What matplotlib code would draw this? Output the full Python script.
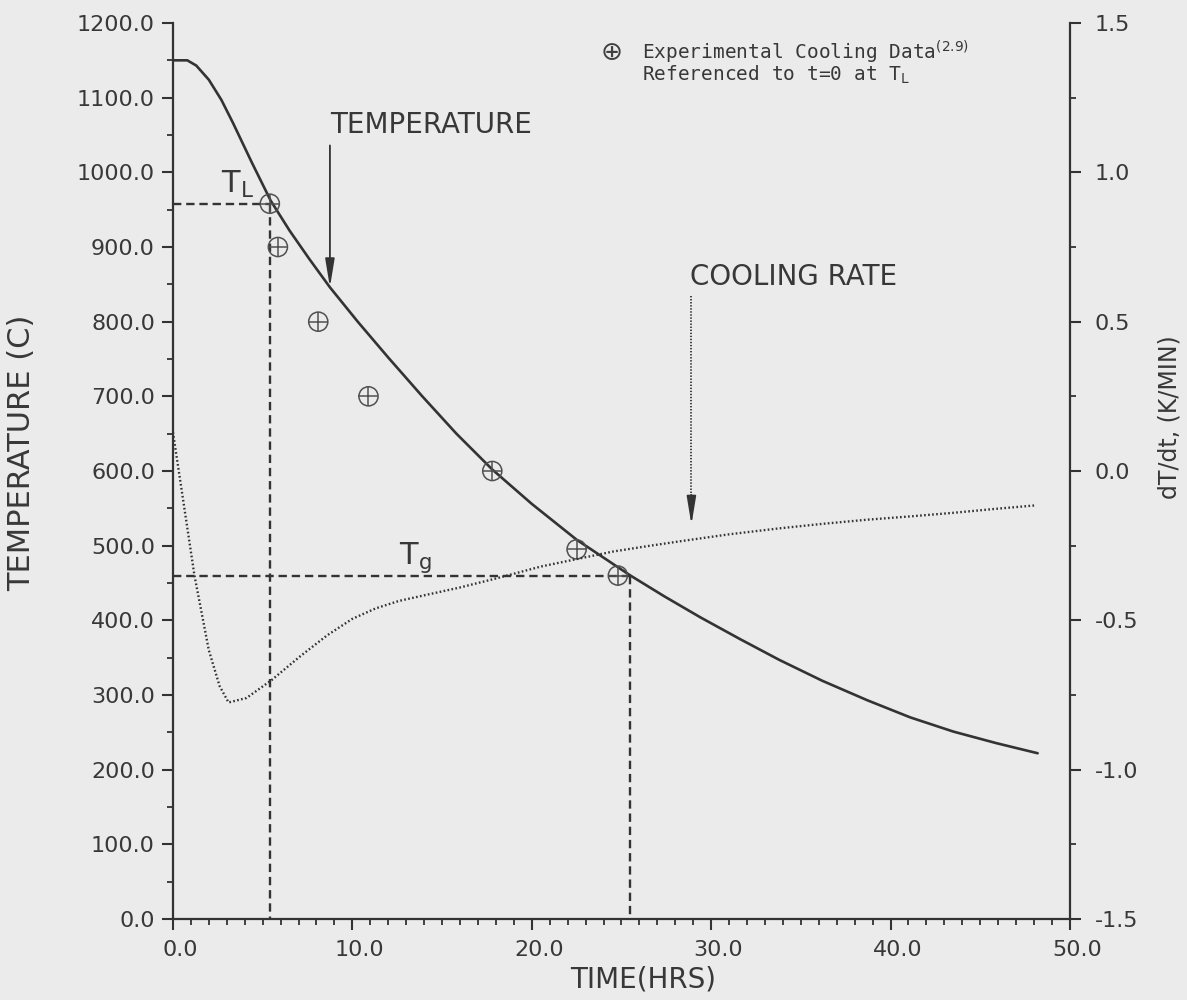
import matplotlib
matplotlib.use('Agg')
import matplotlib.pyplot as plt
from matplotlib.ticker import MultipleLocator, FormatStrFormatter
import matplotlib.transforms as mtransforms

plt.rcParams['lines.scale_dashes'] = False
plt.rcParams['font.family'] = ['DejaVu Sans']

# ---------------- data ----------------
temp_time = [0.0, 0.8, 1.3, 2.0, 2.7, 3.35, 4.4, 5.45, 6.5, 7.6, 8.75, 10.3, 12.0,
             13.9, 15.8, 17.8, 20.0, 22.5, 25.5, 27.4, 29.4, 31.6, 33.8, 36.2,
             38.7, 41.1, 43.5, 45.9, 48.2]
temp_vals = [1150, 1150, 1143, 1124, 1097, 1066, 1013, 962, 922, 884, 846, 800, 752,
             700, 650, 602, 556, 508, 460, 432, 404, 375, 347, 319,
             293, 270, 251, 235.5, 222]

rate_time = [0.0, 0.6, 1.2, 2.0, 2.6, 3.1, 4.1, 5.5, 7.1, 8.6, 10.0, 11.3, 12.6,
             14.1, 16.0, 18.0, 20.5, 22.5, 24.5, 26.4, 28.3, 31.0, 33.8, 36.2,
             38.7, 41.1, 43.5, 45.8, 48.1]
rate_vals = [0.13, -0.11, -0.35, -0.60, -0.72, -0.775, -0.76, -0.70, -0.62, -0.55,
             -0.495, -0.46, -0.435, -0.415, -0.39, -0.36, -0.32, -0.295, -0.27,
             -0.252, -0.235, -0.212, -0.192, -0.177, -0.163, -0.152, -0.14,
             -0.127, -0.115]

exp_time = [5.4, 5.85, 8.1, 10.9, 17.8, 22.5, 24.8]
exp_temp = [958, 900, 800, 700, 600, 495, 460]

t_liquidus, T_liquidus = 5.4, 958
t_glass, T_glass = 25.5, 460

x_ticks = [0, 10, 20, 30, 40, 50]
y_ticks = list(range(0, 1300, 100))
r_ticks = [-1.5, -1.0, -0.5, 0.0, 0.5, 1.0, 1.5]

# ---------------- styling ----------------
bg = '#ebebeb'
ink = '#333333'
txt = '#383838'

fig = plt.figure(figsize=(11.87, 10), dpi=100, facecolor=bg)
ax = fig.add_axes([0.1457, 0.081, 0.7557, 0.896])
ax.set_facecolor(bg)
ax2 = ax.twinx()

ax.set_xlim(0, 50)
ax.set_ylim(0, 1200)
ax2.set_ylim(-1.5, 1.5)

for a in (ax, ax2):
    a.spines['top'].set_visible(False)
    for s in a.spines.values():
        s.set_color(ink)
        s.set_linewidth(1.6)
ax.spines['right'].set_visible(False)
ax2.spines['left'].set_visible(False)
ax2.spines['bottom'].set_visible(False)

# temperature curve
ax.plot(temp_time, temp_vals, color=ink, lw=1.9, solid_joinstyle='round',
        solid_capstyle='round', zorder=4)

# cooling rate (right axis)
ax2.plot(rate_time, rate_vals, color=ink, lw=1.7, linestyle=(0, (1.2, 1.7)), zorder=3)

# experimental data
ax.scatter(exp_time, exp_temp, s=190, facecolors='none', edgecolors='#505050',
           linewidths=1.1, zorder=5)
ax.scatter(exp_time, exp_temp, s=190, marker='+', color='#505050',
           linewidths=1.1, zorder=5)

# reference dashed lines
dash = (0, (6, 3.5))
ax.plot([0, t_liquidus], [T_liquidus, T_liquidus], color=ink, lw=1.7, linestyle=dash)
ax.plot([t_liquidus, t_liquidus], [T_liquidus, 0], color=ink, lw=1.7, linestyle=dash)
ax.plot([0, t_glass], [T_glass, T_glass], color=ink, lw=1.7, linestyle=dash)
ax.plot([t_glass, t_glass], [T_glass, 0], color=ink, lw=1.7, linestyle=dash)

ax.text(2.7, 973, r'T$_{\mathrm{L}}$', fontsize=22, color=txt, va='baseline', ha='left')
ax.text(12.6, 476, r'T$_{\mathrm{g}}$', fontsize=22, color=txt, va='baseline', ha='left')

# temperature arrow
ax.annotate('', xy=(temp_time[10], temp_vals[10]), xytext=(temp_time[10], 1036),
            arrowprops=dict(arrowstyle='-|>,head_length=1.7,head_width=0.28',
                            color=ink, lw=1.3, shrinkA=0, shrinkB=0))
ax.text(8.75, 1053, 'TEMPERATURE', fontsize=20, color=txt, ha='left', va='baseline')

# cooling rate arrow: dotted shaft, solid head
ax2.plot([28.9, 28.9], [0.585, -0.09], color=ink, lw=1.3, linestyle=(0, (1, 1.2)))
ax2.annotate('', xy=(28.9, -0.18), xytext=(28.9, -0.08),
             arrowprops=dict(arrowstyle='-|>,head_length=1.7,head_width=0.28',
                             color=ink, lw=1.3, shrinkA=0, shrinkB=0))
ax2.text(28.8, 0.623, 'COOLING RATE', fontsize=20, color=txt, ha='left', va='baseline')

# legend-like note (top right)
ax.text(0.4894, 0.966, '\u2295', transform=ax.transAxes, fontsize=19, color='#404040',
        ha='center', va='center')
ax.text(0.5229, 0.9676, 'Experimental Cooling Data$^{(2.9)}$', transform=ax.transAxes,
        fontsize=14, family=['DejaVu Sans Mono'], color=txt, ha='left', va='center')
ax.text(0.5229, 0.9425, 'Referenced to t=0 at T$_{\\mathrm{L}}$', transform=ax.transAxes,
        fontsize=14, family=['DejaVu Sans Mono'], color=txt, ha='left', va='center')

# ticks
ax.set_xticks(x_ticks)
ax.set_yticks(y_ticks)
ax2.set_yticks(r_ticks)
ax.xaxis.set_minor_locator(MultipleLocator(1))
ax.yaxis.set_minor_locator(MultipleLocator(50))
ax2.yaxis.set_minor_locator(MultipleLocator(0.25))
ax.xaxis.set_major_formatter(FormatStrFormatter('%.1f'))
ax.yaxis.set_major_formatter(FormatStrFormatter('%.1f'))
ax2.yaxis.set_major_formatter(FormatStrFormatter('%.1f'))

ax.tick_params(axis='both', which='major', direction='out', length=8, width=1.5,
               color=ink, labelsize=16, labelcolor=txt, pad=5)
ax.tick_params(axis='both', which='minor', direction='out', length=4.5, width=1.3,
               color=ink)
ax.tick_params(axis='x', which='major', pad=7)
ax2.tick_params(axis='y', which='major', direction='out', length=8, width=1.5,
                color=ink, labelsize=16, labelcolor=txt, pad=10)
ax2.tick_params(axis='y', which='minor', direction='out', length=4.5, width=1.3,
                color=ink)

offset = mtransforms.ScaledTranslation(7 / 100, 0, fig.dpi_scale_trans)
for lab in ax.get_xticklabels():
    lab.set_transform(lab.get_transform() + offset)

ax.set_xlabel('TIME(HRS)', fontsize=20, color=txt)
ax.xaxis.set_label_coords(0.524, -0.052)
ax.set_ylabel('TEMPERATURE (C)', fontsize=22, color=txt)
ax.yaxis.set_label_coords(-0.152, 0.52)
ax2.set_ylabel('dT/dt, (K/MIN)', fontsize=17, color=txt)
ax2.yaxis.set_label_coords(1.098, 0.56)

fig.savefig('out.png', dpi=100, facecolor=bg)
